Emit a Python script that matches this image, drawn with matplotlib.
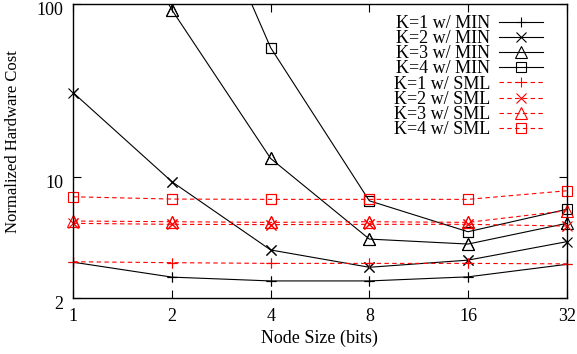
import numpy as np
import matplotlib
matplotlib.use("Agg")
import matplotlib.pyplot as plt
import matplotlib.transforms as mtransforms

plt.rcParams['font.family'] = ['Liberation Serif', 'DejaVu Serif']

node_sizes = [1, 2, 4, 8, 16, 32]
tick_labels = ["1", "2", "4", "8", "16", "32"]

min_k1 = [3.22, 2.64, 2.51, 2.51, 2.65, 3.13]
min_k2 = [30.7, 9.39, 3.79, 3.01, 3.31, 4.23]
min_k3 = [1000.0, 92.3, 12.8, 4.38, 4.10, 5.40]
min_k4 = [20000.0, 1140.0, 55.9, 7.29, 4.83, 6.51]
sml_k1 = [3.24, 3.20, 3.17, 3.17, 3.17, 3.15]
sml_k2 = [5.40, 5.33, 5.31, 5.33, 5.33, 5.21]
sml_k3 = [5.57, 5.52, 5.47, 5.52, 5.47, 6.39]
sml_k4 = [7.69, 7.46, 7.43, 7.43, 7.43, 8.33]

labels = ["K=1 w/ MIN", "K=2 w/ MIN", "K=3 w/ MIN", "K=4 w/ MIN",
          "K=1 w/ SML", "K=2 w/ SML", "K=3 w/ SML", "K=4 w/ SML"]
series = [min_k1, min_k2, min_k3, min_k4, sml_k1, sml_k2, sml_k3, sml_k4]
markers = ['+', 'x', '^', 's', '+', 'x', '^', 's']
msizes = [7, 6.5, 8, 6.5, 7, 6.5, 8, 6.5]

ymin, ymax = 2, 100

fig = plt.figure(figsize=(5.77, 3.54), dpi=100)
ax = fig.add_axes([73.3/577, 56/354, (566.7-73.3)/577, (298-4)/354])

for i, (lab, ys) in enumerate(zip(labels, series)):
    red = i >= 4
    color = 'red' if red else 'black'
    ls = (0, (4, 3)) if red else '-'
    ax.plot(node_sizes, ys, color=color, linestyle=ls, linewidth=0.8,
            marker=markers[i], markersize=msizes[i], markerfacecolor='none',
            markeredgecolor=color, markeredgewidth=0.8, label=lab)
    yarr = np.ma.masked_greater(np.array(ys), ymax)
    ax.plot(node_sizes, yarr, linestyle='none', marker=markers[i],
            markersize=msizes[i], markerfacecolor='none',
            markeredgecolor=color, markeredgewidth=0.8, clip_on=False)

ax.set_xscale('log', base=2)
ax.set_yscale('log')
ax.set_xlim(1, 32)
ax.set_ylim(ymin, ymax)
ax.set_xticks(node_sizes)
ax.set_xticklabels(tick_labels)
ax.set_yticks([2, 10, 100])
ax.set_yticklabels(["2", "10", "100"])
ax.minorticks_off()
ax.tick_params(direction='in', top=True, right=True, length=6, width=0.8,
               labelsize=13)
ax.tick_params(axis='x', pad=7.5)
ax.tick_params(axis='y', pad=7)
off = mtransforms.ScaledTranslation(0, -3/72, fig.dpi_scale_trans)
for lbl in ax.get_yticklabels():
    lbl.set_transform(lbl.get_transform() + off)
for s in ax.spines.values():
    s.set_linewidth(1.0)

ax.set_xlabel("Node Size (bits)", fontsize=13)
ax.set_ylabel("Normalized Hardware Cost", fontsize=12)
ax.xaxis.set_label_coords(0.498, -0.108)
ax.yaxis.set_label_coords(-0.106, 0.532)

ax.legend(loc='upper right', frameon=False, markerfirst=False, fontsize=13,
          handlelength=2.44, handletextpad=0.5, labelspacing=-0.1,
          borderaxespad=0.0, borderpad=0.0, bbox_to_anchor=(0.952, 0.963))

fig.savefig("out.png", dpi=100)
